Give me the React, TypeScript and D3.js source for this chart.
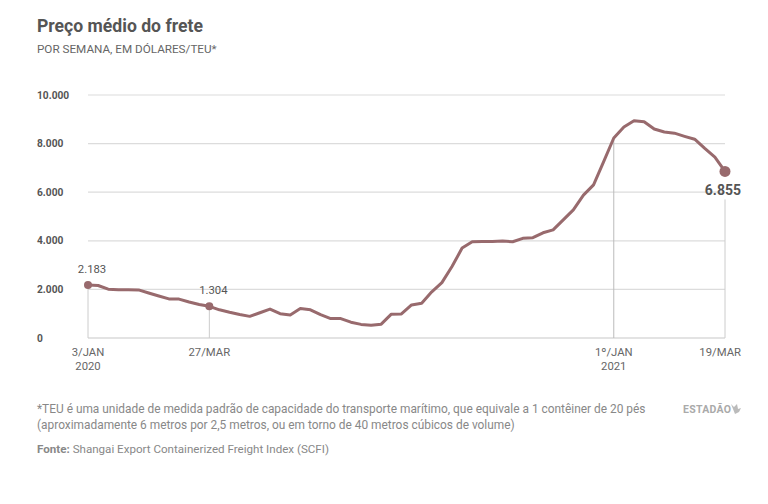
import React from "react";
import * as d3 from "d3";

// weekly average freight price, USD/TEU, 3 Jan 2020 .. 19 Mar 2021
const startDate = new Date(2020, 0, 3);
const values = [
  2183, 2160, 2010, 1990, 1990, 1980, 1850, 1730, 1610, 1600, 1480, 1380, 1304,
  1160, 1060, 970, 890, 1040, 1190, 1000, 950, 1210, 1160, 960, 800, 800, 650,
  560, 520, 570, 980, 990, 1360, 1430, 1900, 2280, 2940, 3700, 3960, 3970, 3970,
  3990, 3960, 4100, 4130, 4330, 4450, 4860, 5270, 5880, 6300, 7260, 8230, 8680,
  8940, 8900, 8600, 8480, 8430, 8300, 8180, 7800, 7440, 6855,
];
const yTicks = [0, 2000, 4000, 6000, 8000, 10000];
const xMarks = [
  { date: new Date(2020, 0, 3), label: ["3/JAN", "2020"] },
  { date: new Date(2020, 2, 27), label: ["27/MAR"] },
  { date: new Date(2021, 0, 1), label: ["1º/JAN", "2021"] },
  { date: new Date(2021, 2, 19), label: ["19/MAR"] },
];
const callouts = [
  { index: 0, text: "2.183" },
  { index: 12, text: "1.304" },
];

const data = values.map((v, i) => ({
  date: d3.timeDay.offset(startDate, i * 7),
  value: v,
}));

const fmt = (n: number) => d3.format(",")(n).replace(/,/g, ".");

const W = 768;
const H = 504;
const margin = { left: 88, right: 43, top: 95, bottom: 166 };
const font = "Roboto, 'Noto Sans', sans-serif";
const lineColor = "#986a6d";

export default function App() {
  const x = d3
    .scaleTime()
    .domain([data[0].date, data[data.length - 1].date])
    .range([margin.left, W - margin.right]);
  const y = d3
    .scaleLinear()
    .domain([0, 10000])
    .range([H - margin.bottom, margin.top]);

  const line = d3
    .line<{ date: Date; value: number }>()
    .x((d) => x(d.date))
    .y((d) => y(d.value));

  const last = data[data.length - 1];

  return (
    <svg
      width={W}
      height={H}
      style={{ position: "absolute", left: 0, top: 0, background: "#fff" }}
      fontFamily={font}
    >
      <text x={37} y={32} fontSize={17.6} fontWeight={700} fill="#555">
        Preço médio do frete
      </text>
      <text x={37} y={53} fontSize={11.7} fill="#666">
        POR SEMANA, EM DÓLARES/TEU*
      </text>

      {yTicks.map((t) => (
        <g key={t}>
          <line
            x1={margin.left}
            x2={W - margin.right}
            y1={y(t)}
            y2={y(t)}
            stroke={t === 0 ? "#c8c8c8" : "#dcdcdc"}
            strokeWidth={1.2}
          />
          <text x={37} y={y(t) + 3.5} fontSize={10.2} fontWeight={700} fill="#555">
            {fmt(t)}
          </text>
        </g>
      ))}

      {/* vertical markers */}
      <line x1={x(xMarks[0].date)} x2={x(xMarks[0].date)} y1={y(values[0])} y2={y(0)} stroke="#ccc" />
      <line x1={x(xMarks[1].date)} x2={x(xMarks[1].date)} y1={y(values[12])} y2={y(0)} stroke="#ccc" />
      <line x1={x(xMarks[2].date)} x2={x(xMarks[2].date)} y1={y(values[52])} y2={y(0)} stroke="#bbb" />
      <line x1={x(last.date)} x2={x(last.date)} y1={y(last.value) + 28} y2={y(0)} stroke="#ccc" />

      {xMarks.map((m, i) => (
        <text
          key={i}
          x={i === 3 ? x(m.date) + 16 : x(m.date)}
          y={356}
          fontSize={11.3}
          fill="#666"
          textAnchor={i === 3 ? "end" : "middle"}
        >
          {m.label.map((l, j) => (
            <tspan key={j} x={i === 3 ? x(m.date) + 16 : x(m.date)} dy={j === 0 ? 0 : 14}>
              {l}
            </tspan>
          ))}
        </text>
      ))}

      <path
        d={line(data) || ""}
        fill="none"
        stroke={lineColor}
        strokeWidth={3}
        strokeLinejoin="round"
        strokeLinecap="round"
      />

      {callouts.map((c) => (
        <g key={c.index}>
          <circle cx={x(data[c.index].date)} cy={y(data[c.index].value)} r={4} fill={lineColor} />
          <text
            x={x(data[c.index].date) + 4}
            y={y(data[c.index].value) - 12}
            fontSize={11.3}
            fill="#555"
            textAnchor="middle"
          >
            {c.text}
          </text>
        </g>
      ))}
      <circle cx={x(last.date)} cy={y(last.value)} r={5.5} fill={lineColor} />
      <text x={x(last.date) + 16} y={y(last.value) + 24} fontSize={14} fontWeight={700} fill="#555" textAnchor="end">
        {fmt(last.value)}
      </text>

      <text x={37} y={413} fontSize={11.9} fill="#888">
        *TEU é uma unidade de medida padrão de capacidade do transporte marítimo, que equivale a 1 contêiner de 20 pés
      </text>
      <text x={37} y={429} fontSize={11.9} fill="#888">
        (aproximadamente 6 metros por 2,5 metros, ou em torno de 40 metros cúbicos de volume)
      </text>
      <text x={37} y={453} fontSize={11.6} fill="#888">
        <tspan fontWeight={700}>Fonte:</tspan> Shangai Export Containerized Freight Index (SCFI)
      </text>

      <text x={683} y={413} fontSize={10.5} fontWeight={700} fill="#aaa" letterSpacing={0.3}>
        ESTADÃO
      </text>
      <path d="M731,404 l3,3 l3,-3 l1,5 l3,-1 l-2,4 l-4,2 z" fill="#bbb" />
    </svg>
  );
}
